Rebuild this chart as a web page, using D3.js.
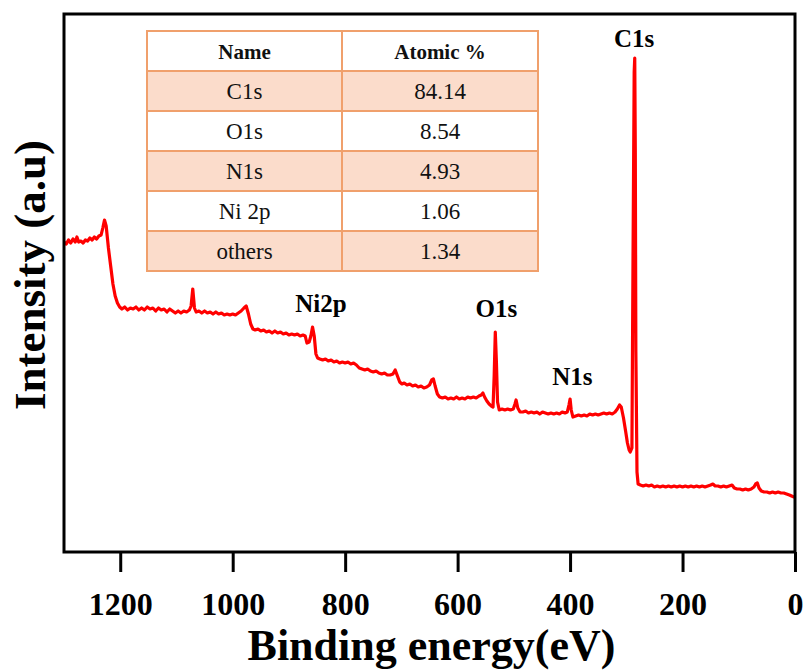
<!DOCTYPE html>
<html>
<head>
<meta charset="utf-8">
<script src="https://cdn.jsdelivr.net/npm/d3@7"></script>
<style>
  body { margin: 0; background: #fff; }
  svg text { font-family: "Liberation Serif", "Times New Roman", serif; }
</style>
</head>
<body>
<div id="chart"></div>
<script>
// XPS survey spectrum, binding energy (eV) vs intensity (a.u.)
const energy = [
  1300,1296,1292,1288,1284,1280,1277,1274,1270,1266,1262,1258,1254,1250,1246,1242,1238,1234,1231,1228,1225,1221,1217,1213,1209,1205,1201,
  1197,1192,1187,1182,1177,1172,1167,1162,1157,1152,1147,1142,1137,1132,1127,1122,1117,1112,1107,1102,1097,1092,1087,1082,1077,1074,1071,1068,1065,
  1060,1055,1050,1045,1040,1035,1030,1025,1020,1015,1010,1005,1000,995,990,985,980,976,972,968,964,
  960,955,950,945,940,935,930,925,920,915,910,905,900,895,890,885,880,875,871,868,864,861,858,855,852,849,
  845,840,835,830,825,820,815,810,805,800,795,790,785,780,775,770,765,760,755,750,745,740,735,730,725,720,715,711,707,703,699,695,690,685,680,675,670,665,660,655,650,646,643,640,636,632,
  627,622,617,612,607,602,597,592,587,582,577,572,567,562,558,555,552,548,544,540,537,535,533,531,529,526,521,516,511,506,501,498,496,493,489,
  484,479,474,469,464,459,454,449,444,439,434,429,424,419,414,409,405,402,400,398,395,390,385,380,375,370,365,360,355,350,345,340,335,330,325,320,316,312,309,305,301,298,295,293,290,288,286,285,284,283,281,279,
  275,270,265,260,255,250,245,240,235,230,225,220,215,210,205,200,195,190,185,180,175,170,165,160,155,150,146,142,137,132,127,122,117,112,108,103,98,93,88,83,78,73,70,67,64,60,55,50,45,40,35,30,25,20,15,10,6,2,0
];
const intensity = [
  155,154,156,154.5,156.5,155,157.5,155,155.5,154.5,156,155.5,157,156,157.5,156.5,158,158.5,162,166,163,152,143,134,128,124.5,122.5,
  121.5,122.5,121,122,121.5,122.5,121,122,121,122.5,121.5,122,120.5,122,121,121.5,120,121.5,120.5,119.5,120.5,119.5,120.5,120,121,123,131.5,122,120,
  120.5,119.5,120.5,119.5,120,119,120,119,119.5,118.5,119,118.5,119,118.5,119.5,120.5,122,123,119,114,111.5,
  111,111.5,110.5,111,110,110.5,109.5,110.5,109.5,110,109,109.5,108.5,109,108.5,109,108,108.5,108,104.5,105,108,112.5,108,99,97,
  96.5,96,96.5,95.5,96,95,95.5,94.5,95,94.5,95,94,94.5,93.5,92,91.5,91,91.5,90.5,90,90.5,89.5,89,89.5,88.5,88.5,89,91,88,85,84,84.5,83.5,84,83,83.5,82.5,83,82,82.5,83.5,86,86.5,83,79,77.5,
  77,77.5,76.5,77,76.5,77.5,76.5,77,76.5,77.5,77,77.5,77,78,78.5,79.5,77.5,75.5,74,73,72.5,88,110,95,75,71,71.5,71,71.5,71,71.5,74,76,72,70,
  70,70.5,69.5,70,69.5,70,69,70,69.5,69,69.5,69,69.5,69,70,69.5,70,73.5,76.5,71,67.5,68,68.5,68,68.5,68,69,68.5,69,68.5,69,69.5,69,69.5,69,70,71.5,73.5,72.5,67,60,54.5,51,50,52,150,240,247,200,100,40,34,
  33.5,33,33.5,33,33.5,32.5,33,32.5,33,32.5,33,32.5,33,32.5,33,32.5,33,32.5,33,32.5,33,32.5,33,32.5,33,33.5,34,33,33,32.5,33,32.5,33,33.5,32,31.5,31.5,31,31.5,31,31.5,32.5,34,34.5,32,30.5,30,30,29.5,30,29.5,30,29.5,29.5,29,28.5,28,27.5,27.5
];

const xTicks = [1200, 1000, 800, 600, 400, 200, 0];

// peak annotations
const peakNames = ["Ni2p", "O1s", "N1s", "C1s"];
const peakEnergy = [843, 531, 396, 286];
const peakLabelY = [120, 117.5, 83.5, 252.5];

// atomic composition table
const tableHeader = ["Name", "Atomic %"];
const elements = ["C1s", "O1s", "N1s", "Ni 2p", "others"];
const atomicPct = ["84.14", "8.54", "4.93", "1.06", "1.34"];

const width = 807, height = 671;
const margin = {top: 14, right: 12, bottom: 119, left: 64};
const serif = "Liberation Serif, Times New Roman, serif";

const svg = d3.select("#chart").append("svg")
  .attr("width", width)
  .attr("height", height);

const x = d3.scaleLinear()
  .domain([1300, 0])
  .range([margin.left, width - margin.right]);

const y = d3.scaleLinear()
  .domain([0, 269])
  .range([height - margin.bottom, margin.top]);

const spectrum = energy.map((e, i) => ({e: e, v: intensity[i]}));

// spectrum line
svg.append("path")
  .datum(spectrum)
  .attr("fill", "none")
  .attr("stroke", "#ff0000")
  .attr("stroke-width", 3.2)
  .attr("stroke-linejoin", "round")
  .attr("d", d3.line().x(d => x(d.e)).y(d => y(d.v)));

// frame
svg.append("rect")
  .attr("x", margin.left)
  .attr("y", margin.top)
  .attr("width", width - margin.left - margin.right)
  .attr("height", height - margin.top - margin.bottom)
  .attr("fill", "none")
  .attr("stroke", "#000")
  .attr("stroke-width", 3);

// x axis
const xAxis = svg.append("g")
  .attr("transform", `translate(0,${height - margin.bottom})`)
  .call(d3.axisBottom(x).tickValues(xTicks).tickFormat(d3.format("d"))
    .tickSize(20).tickPadding(20).tickSizeOuter(0));
xAxis.select(".domain").remove();
xAxis.selectAll(".tick line").attr("stroke", "#000").attr("stroke-width", 3);
xAxis.selectAll(".tick text")
  .attr("fill", "#000")
  .attr("font-size", 32)
  .attr("font-weight", "bold")
  .attr("font-family", serif);

// axis titles
svg.append("text")
  .attr("x", (margin.left + width - margin.right) / 2 + 2)
  .attr("y", 660)
  .attr("text-anchor", "middle")
  .attr("font-family", serif)
  .attr("font-size", 44)
  .attr("font-weight", "bold")
  .text("Binding energy(eV)");

svg.append("text")
  .attr("transform", "translate(45,275) rotate(-90)")
  .attr("text-anchor", "middle")
  .attr("font-family", serif)
  .attr("font-size", 45)
  .attr("font-weight", "bold")
  .text("Intensity (a.u)");

// table
const tbl = {x: 147, y: 31, colW: [195, 196], rowH: 40};
const rows = [tableHeader].concat(elements.map((el, i) => [el, atomicPct[i]]));
const tg = svg.append("g");

tg.selectAll("rect.row")
  .data(rows)
  .join("rect")
  .attr("class", "row")
  .attr("x", tbl.x)
  .attr("y", (d, i) => tbl.y + i * tbl.rowH)
  .attr("width", tbl.colW[0] + tbl.colW[1])
  .attr("height", tbl.rowH)
  .attr("fill", (d, i) => (i % 2 === 1 ? "#fbdccb" : "#fff"))
  .attr("stroke", "#f0a06c")
  .attr("stroke-width", 2);

tg.append("line")
  .attr("x1", tbl.x + tbl.colW[0]).attr("x2", tbl.x + tbl.colW[0])
  .attr("y1", tbl.y).attr("y2", tbl.y + rows.length * tbl.rowH)
  .attr("stroke", "#f0a06c").attr("stroke-width", 2);

rows.forEach((r, i) => {
  r.forEach((cell, j) => {
    const cx = tbl.x + (j === 0 ? tbl.colW[0] / 2 : tbl.colW[0] + tbl.colW[1] / 2);
    tg.append("text")
      .attr("x", cx)
      .attr("y", tbl.y + i * tbl.rowH + tbl.rowH / 2 + 8)
      .attr("text-anchor", "middle")
      .attr("font-family", serif)
      .attr("font-size", i === 0 ? 21 : 23)
      .attr("font-weight", i === 0 ? "bold" : "normal")
      .attr("fill", "#111")
      .text(cell);
  });
});

// peak labels
svg.selectAll(".peak")
  .data(peakNames)
  .join("text")
  .attr("class", "peak")
  .attr("x", (d, i) => x(peakEnergy[i]))
  .attr("y", (d, i) => y(peakLabelY[i]))
  .attr("text-anchor", "middle")
  .attr("font-family", serif)
  .attr("font-size", 25)
  .attr("font-weight", "bold")
  .text(d => d);
</script>
</body>
</html>
